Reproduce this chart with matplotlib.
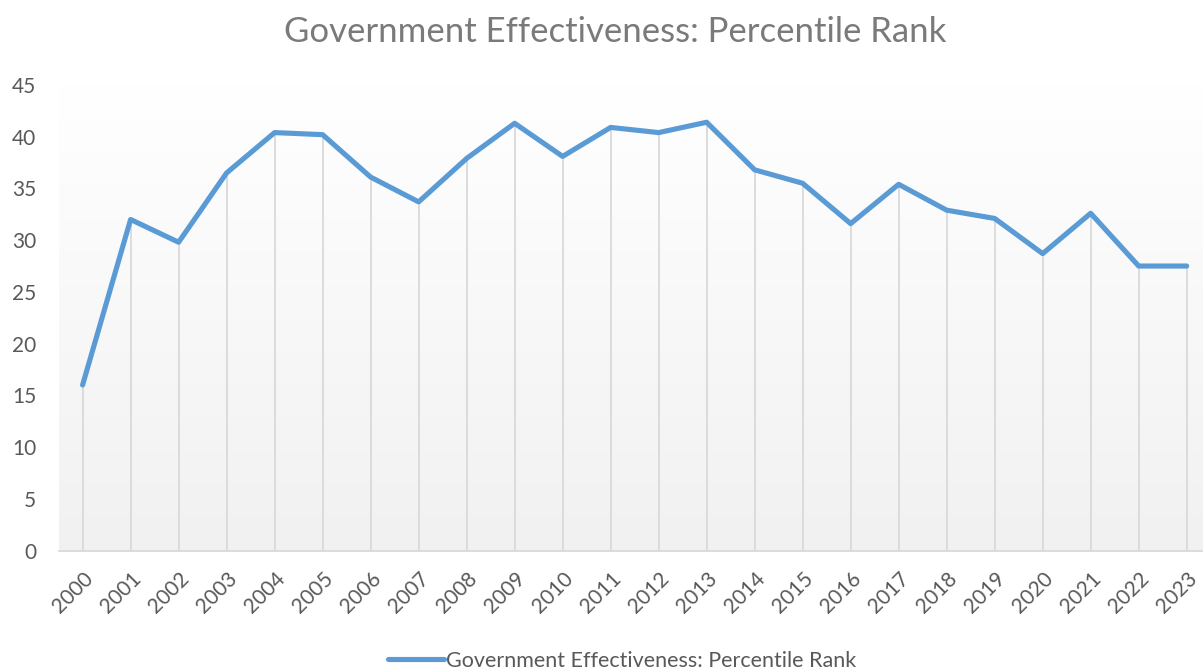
import numpy as np
import matplotlib
matplotlib.use("Agg")
import matplotlib.pyplot as plt
from matplotlib.colors import LinearSegmentedColormap

plt.rcParams['font.family'] = ['Lato', 'DejaVu Sans']

years = [str(y) for y in range(2000, 2024)]
percentile_rank = [16.0, 32.0, 29.8, 36.5, 40.4, 40.2, 36.1, 33.7, 37.9, 41.3,
                   38.1, 40.9, 40.4, 41.4, 36.8, 35.5, 31.6, 35.4, 32.9, 32.1,
                   28.7, 32.6, 27.5, 27.5]
y_ticks = [0, 5, 10, 15, 20, 25, 30, 35, 40, 45]

series_name = "Government Effectiveness: Percentile Rank"
line_color = "#5b9bd5"
text_color = "#595959"
grid_color = "#d9d9d9"

fig = plt.figure(figsize=(12.03, 6.72), dpi=100)
ax = fig.add_axes([0.0487, 0.1808, 0.9513, 0.6927])

x = np.arange(len(years))

# plot-area gradient: white at the top fading to light grey
cmap = LinearSegmentedColormap.from_list("bg", ["#ffffff", "#f1f1f1"])
grad = np.linspace(0, 1, 256).reshape(-1, 1)
ax.imshow(grad, cmap=cmap, aspect="auto", extent=[0, 1, 0, 1],
          transform=ax.transAxes, zorder=0, interpolation="bicubic")

# drop lines from each point to the axis
ax.vlines(x, 0, percentile_rank, color=grid_color, lw=1.3, zorder=1)

ax.plot(x, percentile_rank, color=line_color, lw=3.7, solid_joinstyle="round",
        solid_capstyle="round", zorder=3, label=series_name)

ax.set_xlim(-0.5, 23.34)
ax.set_ylim(0, 45)
ax.set_yticks(y_ticks)
ax.set_xticks(x)
ax.set_xticklabels(years, rotation=45, ha="right", rotation_mode="anchor")

for s in ["top", "right", "left"]:
    ax.spines[s].set_visible(False)
ax.spines["bottom"].set_color(grid_color)
ax.spines["bottom"].set_linewidth(1.3)
ax.tick_params(axis="both", length=0, colors=text_color, labelsize=15)
ax.tick_params(axis="y", pad=16)
ax.tick_params(axis="x", pad=13)

fig.text(0.511, 0.953, series_name, ha="center", va="center",
         fontsize=25, color="#7a7a7a")

fig.legend(loc="center", bbox_to_anchor=(0.517, 0.017), frameon=False,
           fontsize=15.5, labelcolor=text_color, handlelength=2.6,
           handletextpad=0.1)

fig.savefig("out.png", dpi=100, facecolor="white")
